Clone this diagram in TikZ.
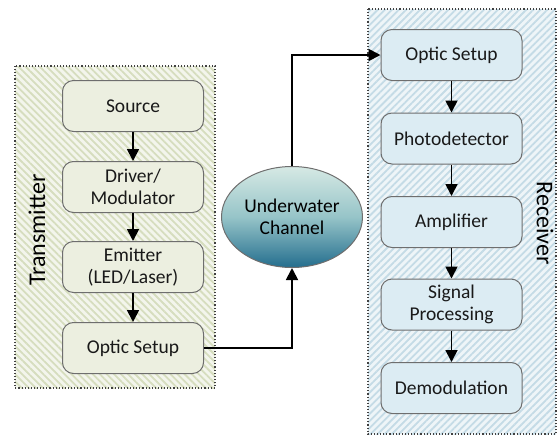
\documentclass[tikz,border=0pt]{standalone}
\usepackage{fontspec}
\setmainfont{Carlito}
\usetikzlibrary{shapes.geometric,arrows.meta,patterns.meta}
\definecolor{txbg}{HTML}{F3F5EC}
\definecolor{txhatch}{HTML}{D6DDBE}
\definecolor{txbox}{HTML}{ECEFE0}
\definecolor{rxbg}{HTML}{EEF5F8}
\definecolor{rxhatch}{HTML}{C4DBE6}
\definecolor{rxbox}{HTML}{DCECF3}
\definecolor{boxline}{HTML}{6E6E6E}
\tikzset{
  blk/.style={draw=boxline, line width=1pt, rounded corners=11pt, minimum width=141pt, minimum height=51pt, inner sep=1pt, align=center, font=\fontsize{19.5}{22}\selectfont, text=black!90},
  txblk/.style={blk, fill=txbox},
  rxblk/.style={blk, fill=rxbox},
  arr/.style={line width=1.8pt, -{Triangle[width=12pt,length=12pt]}},
  region/.style={draw=black!75, line width=1.1pt, dotted},
}
\begin{document}
\begin{tikzpicture}[x=1pt,y=-1pt]
\useasboundingbox (0,0) rectangle (558,437);
% transmitter region
\fill[txbg] (15,66) rectangle (215,388);
\fill[pattern={Lines[angle=-45,distance=5pt,line width=1.8pt]}, pattern color=txhatch] (15,66) rectangle (215,388);
\draw[region] (15,66) rectangle (215,388);
% receiver region
\fill[rxbg] (368,9) rectangle (556,434);
\fill[pattern={Lines[angle=45,distance=5pt,line width=1.8pt]}, pattern color=rxhatch] (368,9) rectangle (556,434);
\draw[region] (368,9) rectangle (556,434);

\node[rotate=90, font=\fontsize{24}{28}\selectfont] (tlab) at (37,230) {Transmitter};
\node[rotate=-90, font=\fontsize{24}{28}\selectfont] (rlab) at (545,223) {Receiver};

\node[txblk] (src) at (133,106) {Source};
\node[txblk] (drv) at (133,187) {Driver/\\Modulator};
\node[txblk] (emi) at (133,267) {Emitter\\(LED/Laser)};
\node[txblk] (tos) at (133,348) {Optic Setup};

\node[rxblk] (ros) at (451.5,55) {Optic Setup};
\node[rxblk] (pd) at (451.5,138.5) {Photodetector};
\node[rxblk] (amp) at (451.5,222) {Amplifier};
\node[rxblk] (sp) at (451.5,304.5) {Signal\\Processing};
\node[rxblk] (dem) at (451.5,388) {Demodulation};

\node[ellipse, draw=boxline, line width=1pt, minimum width=141pt, minimum height=101pt, inner sep=0pt, align=center,
  top color={rgb,255:red,214;green,233;blue,228}, bottom color={rgb,255:red,36;green,110;blue,142},
  middle color={rgb,255:red,150;green,196;blue,200},
  font=\fontsize{19.5}{22}\selectfont] (ch) at (292,217) {Underwater\\Channel};

\draw[arr] (src) -- (drv);
\draw[arr] (drv) -- (emi);
\draw[arr] (emi) -- (tos);
\draw[arr] (ros) -- (pd);
\draw[arr] (pd) -- (amp);
\draw[arr] (amp) -- (sp);
\draw[arr] (sp) -- (dem);
\draw[arr] (tos.east) -| (ch.south);
\draw[arr] (ch.north) |- (ros.west);
\end{tikzpicture}
\end{document}
